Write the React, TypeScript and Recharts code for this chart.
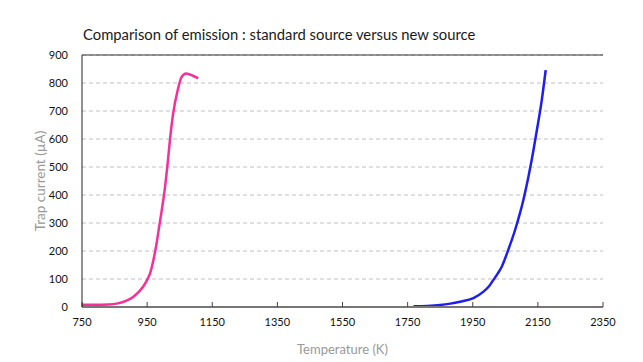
import { LineChart, Line, XAxis, YAxis, CartesianGrid, ReferenceLine, Label } from "recharts";

const standardSource = [
  { t: 750, i: 8 }, { t: 790, i: 8 }, { t: 830, i: 9 }, { t: 860, i: 13 },
  { t: 885, i: 22 }, { t: 908, i: 37 }, { t: 925, i: 55 }, { t: 938, i: 73 },
  { t: 950, i: 97 }, { t: 959, i: 120 }, { t: 969, i: 166 }, { t: 979, i: 227 },
  { t: 987, i: 287 }, { t: 995, i: 346 }, { t: 1003, i: 410 }, { t: 1012, i: 501 },
  { t: 1020, i: 596 }, { t: 1030, i: 692 }, { t: 1044, i: 775 }, { t: 1056, i: 822 },
  { t: 1070, i: 834 }, { t: 1092, i: 825 }, { t: 1107, i: 817 },
];

const newSource = [
  { t: 1768, i: 3 }, { t: 1810, i: 4 }, { t: 1850, i: 7 }, { t: 1881, i: 12 },
  { t: 1911, i: 19 }, { t: 1952, i: 32 }, { t: 1983, i: 55 }, { t: 2000, i: 74 },
  { t: 2013, i: 96 }, { t: 2027, i: 120 }, { t: 2039, i: 144 }, { t: 2059, i: 204 },
  { t: 2080, i: 275 }, { t: 2095, i: 335 }, { t: 2106, i: 385 }, { t: 2121, i: 465 },
  { t: 2131, i: 525 }, { t: 2147, i: 632 }, { t: 2162, i: 739 }, { t: 2174, i: 846 },
];

const xTicks = [750, 950, 1150, 1350, 1550, 1750, 1950, 2150, 2350];
const yTicks = [0, 100, 200, 300, 400, 500, 600, 700, 800, 900];

const font = "Lato, 'Open Sans', sans-serif";

export default function App() {
  return (
    <div style={{ position: "absolute", left: 0, top: 0, width: 643, height: 362, background: "#fff", fontFamily: font }}>
      <div style={{ position: "absolute", left: 83, top: 25, fontSize: 14.8, color: "#1a1a1a" }}>
        Comparison of emission : standard source versus new source
      </div>
      <LineChart width={643} height={362} margin={{ top: 55, right: 40, bottom: 15, left: 22 }}>
        <CartesianGrid vertical={false} stroke="#c0c0c0" strokeDasharray="4 3" />
        <XAxis
          type="number"
          dataKey="t"
          domain={[750, 2350]}
          ticks={xTicks}
          height={40}
          stroke="#777"
          strokeWidth={2}
          tickSize={-5}
          tickMargin={16}
          tick={{ fill: "#111", fontSize: 11, fontFamily: font }}
          tickLine={{ stroke: "#444", strokeWidth: 1 }}
        >
          <Label value="Temperature (K)" position="insideBottom" offset={-7} fill="#999" fontSize={13} fontFamily={font} />
        </XAxis>
        <YAxis
          type="number"
          dataKey="i"
          domain={[0, 900]}
          ticks={yTicks}
          width={60}
          stroke="#222"
          tickLine={false}
          tickMargin={8}
          tick={{ fill: "#111", fontSize: 11, fontFamily: font }}
        >
          <Label value="Trap current (µA)" angle={-90} position="insideLeft" offset={18} fill="#999" fontSize={13.5} fontFamily={font} style={{ textAnchor: "middle" }} />
        </YAxis>
        <ReferenceLine y={900} stroke="#333" strokeWidth={1} />
        <Line data={standardSource} dataKey="i" type="monotone" stroke="#f5309a" strokeWidth={2.5} dot={false} isAnimationActive={false} />
        <Line data={newSource} dataKey="i" type="monotone" stroke="#1e1ef0" strokeWidth={2.5} dot={false} isAnimationActive={false} />
      </LineChart>
    </div>
  );
}
